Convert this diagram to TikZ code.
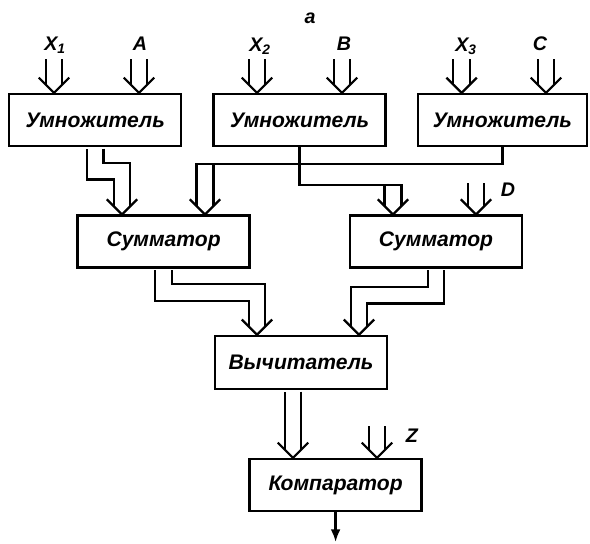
\documentclass[tikz,border=0pt]{standalone}
\usepackage{fontspec}
\setmainfont{Liberation Sans}
\usetikzlibrary{arrows.meta}

\tikzset{
    block/.style={draw, line width=1.6pt, minimum width=4.3cm, minimum height=1.3cm,
        inner sep=0pt, font=\bfseries\itshape\fontsize{15}{15}\selectfont},
    lbl/.style={font=\bfseries\itshape\fontsize{14}{14}\selectfont},
    wire/.style={line width=1.6pt},
    bus/.style={double, line width=1.6pt, double distance=10.3pt, line join=miter, shorten <=1pt},
    bushead/.pic={
        \coordinate (-l) at (-0.21,0.21);
        \coordinate (-r) at (0.21,0.21);
        \coordinate (-c) at (0,0.22);
        \draw[line width=1.6pt, line join=miter] (-0.38,0.38) -- (0,0) -- (0.38,0.38);
    }
}

\begin{document}
\begin{tikzpicture}
    \useasboundingbox (0,0) rectangle (14.75,13.6);

    \node[block] at (2.38,10.6)  (mul1) {Умножитель};
    \node[block] at (7.49,10.6)  (mul2) {Умножитель};
    \node[block, minimum width=4.22cm] at (12.56,10.6) (mul3) {Умножитель};
    \node[block] at (4.09,7.56)  (sum1) {Сумматор};
    \node[block] at (10.9,7.56)  (sum2) {Сумматор};
    \node[block, minimum height=1.33cm] at (7.525,4.54) (sub) {Вычитатель};
    \node[block] at (8.39,1.475) (comp) {Компаратор};

    \node[lbl] at (7.75,13.15) (fig) {a};

    % inputs of the multipliers
    \coordinate (inX1) at (1.35,12.15);
    \coordinate (inA)  at (3.475,12.15);
    \coordinate (inX2) at (6.425,12.15);
    \coordinate (inB)  at (8.55,12.15);
    \coordinate (inX3) at (11.54,12.15);
    \coordinate (inC)  at (13.65,12.15);

    \pic (hX1) at (1.35,0 |- mul1.north)  {bushead};
    \pic (hA)  at (3.475,0 |- mul1.north) {bushead};
    \pic (hX2) at (6.425,0 |- mul2.north) {bushead};
    \pic (hB)  at (8.55,0 |- mul2.north)  {bushead};
    \pic (hX3) at (11.54,0 |- mul3.north) {bushead};
    \pic (hC)  at (13.65,0 |- mul3.north) {bushead};

    \draw[bus] (inX1) -- (hX1-c);
    \draw[bus] (inA)  -- (hA-c);
    \draw[bus] (inX2) -- (hX2-c);
    \draw[bus] (inB)  -- (hB-c);
    \draw[bus] (inX3) -- (hX3-c);
    \draw[bus] (inC)  -- (hC-c);

    \node[lbl] at (1.375,12.48) (lX1) {X\textsubscript{1}};
    \node[lbl] at (3.5,12.5)    (lA)  {A};
    \node[lbl] at (6.5,12.45)   (lX2) {X\textsubscript{2}};
    \node[lbl] at (8.6,12.5)    (lB)  {B};
    \node[lbl] at (11.65,12.45) (lX3) {X\textsubscript{3}};
    \node[lbl] at (13.5,12.5)   (lC)  {C};

    % multipliers to adders
    \pic (h11) at (3.05,0 |- sum1.north)  {bushead};
    \pic (h12) at (5.125,0 |- sum1.north) {bushead};
    \pic (h21) at (9.825,0 |- sum2.north) {bushead};
    \pic (h22) at (11.9,0 |- sum2.north)  {bushead};

    \draw[bus] (mul1.south) -- ++(0,-0.6) -| (h11-c);
    \draw[wire] (mul3.south) -- ++(0,-0.425) -| (h12-l);
    \draw[wire] (h12-r) -- ++(0,1.03);
    \draw[wire] (mul2.south) -- ++(0,-0.95) -| (h21-r);
    \draw[wire] (h21-l) -- ++(0,0.51);

    \coordinate (inD) at (11.9,9.05);
    \draw[bus] (inD) -- (h22-c);
    \node[lbl] at (12.7,8.85) (lD) {D};

    % adders to subtractor
    \pic (h31) at (6.425,0 |- sub.north) {bushead};
    \pic (h32) at (8.975,0 |- sub.north) {bushead};

    \draw[bus] (sum1.south) -- ++(0,-0.6) -| (h31-c);
    \draw[bus] (sum2.south) -- ++(0,-0.66) -| (h32-c);

    % subtractor to comparator
    \pic (h41) at (7.325,0 |- comp.north) {bushead};
    \pic (h42) at (9.425,0 |- comp.north) {bushead};

    \draw[bus] (h41-c |- sub.south) -- (h41-c);
    \coordinate (inZ) at (9.425,2.975);
    \draw[bus] (inZ) -- (h42-c);
    \node[lbl] at (10.3,2.7) (lZ) {Z};

    \coordinate (out) at (8.39,0.05);
    \draw[wire, -{Latex[length=9pt, width=7pt]}] (comp.south) -- (out);
\end{tikzpicture}
\end{document}
